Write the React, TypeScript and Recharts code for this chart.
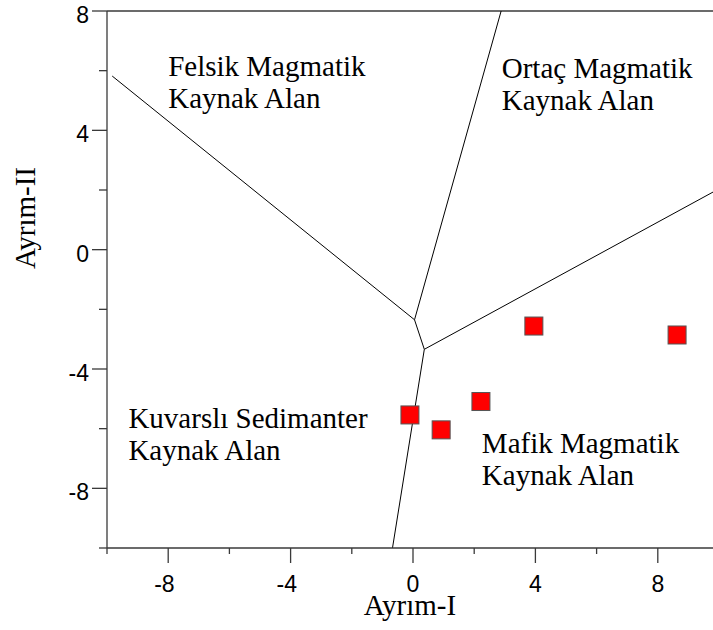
import { ScatterChart, Scatter, XAxis, YAxis, ReferenceLine, ReferenceDot } from "recharts";

// sample points (Ayrım-I, Ayrım-II)
const sampleX = [-0.1, 0.92, 2.22, 3.95, 8.63];
const sampleY = [-5.54, -6.04, -5.09, -2.56, -2.86];

// field boundaries, [x1, y1, x2, y2]
const boundaries = [
  [-9.83, 5.82, 0.05, -2.35],
  [2.88, 8, 0.05, -2.35],
  [0.05, -2.35, 0.37, -3.34],
  [0.37, -3.34, 10, 2.04],
  [0.37, -3.34, -0.67, -10],
];

// field names: left x, first baseline y, lines
const fieldX = [-8.0, 2.9, -9.3, 2.25];
const fieldY = [5.83, 5.75, -5.99, -6.81];
const fieldText = [
  ["Felsik Magmatik", "Kaynak Alan"],
  ["Ortaç Magmatik", "Kaynak Alan"],
  ["Kuvarslı Sedimanter", "Kaynak Alan"],
  ["Mafik Magmatik", "Kaynak Alan"],
];

const xTicks = [-10, -8, -6, -4, -2, 0, 2, 4, 6, 8, 10];
const yTicks = [-10, -8, -6, -4, -2, 0, 2, 4, 6, 8];

const points = sampleX.map((x, i) => ({ x, y: sampleY[i] }));

const AXIS = "#3a3a3a";
const sans = { fontFamily: "'Liberation Sans', Arial, sans-serif", fontSize: 23 };
const serif = { fontFamily: "'Liberation Serif', 'Times New Roman', serif", fontSize: 29 };

function XTick(props: any) {
  const { x, y, payload } = props;
  const major = payload.value % 4 === 0;
  return (
    <g>
      <line x1={x} y1={y} x2={x} y2={y + (major ? 15 : 6)} stroke={AXIS} strokeWidth={1.3} />
      {major && payload.value !== 10 && (
        <text x={x + 6.4} y={y + 44} textAnchor="end" style={sans} fill="#000">
          {payload.value}
        </text>
      )}
    </g>
  );
}

function YTick(props: any) {
  const { x, y, payload } = props;
  const major = payload.value % 4 === 0;
  return (
    <g>
      <line x1={x} y1={y} x2={x - (major ? 15 : 8)} y2={y} stroke={AXIS} strokeWidth={1.3} />
      {major && (
        <text x={x - 18} y={y + 12} textAnchor="end" style={sans} fill="#000">
          {payload.value}
        </text>
      )}
    </g>
  );
}

function Square(props: any) {
  const { cx, cy } = props;
  return <rect x={cx - 9} y={cy - 9} width={18} height={18} fill="#ff0000" stroke="#555" strokeWidth={1} />;
}

function FieldLabel(lines: string[]) {
  return (props: any) => (
    <g>
      {lines.map((t, i) => (
        <text key={i} x={props.cx} y={props.cy + i * 32} style={serif} fill="#000">
          {t}
        </text>
      ))}
    </g>
  );
}

export default function App() {
  return (
    <div style={{ position: "absolute", left: 0, top: 0, width: 713, height: 630, overflow: "hidden", background: "#fff" }}>
      <ScatterChart width={720} height={630} margin={{ top: 11, right: 1, bottom: 22, left: 47 }}>
        <XAxis
          type="number"
          dataKey="x"
          domain={[-10, 10]}
          ticks={xTicks}
          interval={0}
          allowDataOverflow
          height={60}
          tickSize={0}
          tickMargin={0}
          tick={<XTick />}
          axisLine={{ stroke: AXIS, strokeWidth: 1.3 }}
          label={{
            content: (p: any) => (
              <text x={410} y={p.viewBox.y + 67} textAnchor="middle" style={serif} fill="#000">
                Ayrım-I
              </text>
            ),
          }}
        />
        <YAxis
          type="number"
          dataKey="y"
          domain={[-10, 8]}
          ticks={yTicks}
          interval={0}
          allowDataOverflow
          width={60}
          tickSize={0}
          tickMargin={0}
          tick={<YTick />}
          axisLine={{ stroke: AXIS, strokeWidth: 1.3 }}
          label={{
            content: () => (
              <text x={35} y={218} transform="rotate(-90 35 218)" textAnchor="middle" style={serif} fill="#000">
                Ayrım-II
              </text>
            ),
          }}
        />
        <ReferenceLine y={8} stroke={AXIS} strokeWidth={1.3} />
        <Scatter data={points} shape={<Square />} isAnimationActive={false} />
        {boundaries.map((b, i) => (
          <ReferenceLine
            key={i}
            segment={[{ x: b[0], y: b[1] }, { x: b[2], y: b[3] }]}
            stroke="#000"
            strokeWidth={1}
          />
        ))}
        {fieldText.map((lines, i) => (
          <ReferenceDot key={i} x={fieldX[i]} y={fieldY[i]} r={0} shape={FieldLabel(lines)} />
        ))}
      </ScatterChart>
    </div>
  );
}
